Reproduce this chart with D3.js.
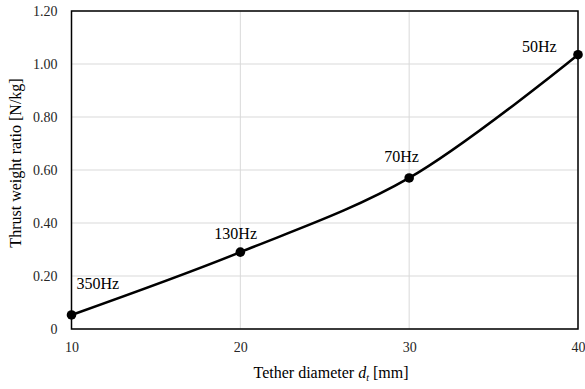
<!DOCTYPE html>
<html lang="en">
<head>
<meta charset="utf-8">
<title>Thrust weight ratio</title>
<script src="https://d3js.org/d3.v7.min.js"></script>
<style type="text/css">
  body { margin: 0; background: #fff; }
  svg, svg text { font-family: "Liberation Serif", "Times New Roman", serif; }
  svg { display: block; }
  .grid line { stroke: #d9d9d9; stroke-width: 1; }
  .tick text { fill: #262626; font-size: 14px; }
  .frame { fill: none; stroke: #000; stroke-width: 1.5; }
  .curve { fill: none; stroke: #000; stroke-width: 2.5; }
  .label { font-size: 16px; fill: #000; }
  .title { font-size: 16px; fill: #000; }
</style>
</head>
<body>
<script type="text/javascript">
// tether diameter [mm] vs thrust weight ratio [N/kg]
var diameters = [10, 20, 30, 40];
var ratios = [0.053, 0.29, 0.57, 1.035];
var freqLabels = ["350Hz", "130Hz", "70Hz", "50Hz"];
var xTicks = [10, 20, 30, 40];
var yTicks = [0, 0.2, 0.4, 0.6, 0.8, 1.0, 1.2];

var w = 585, h = 389;
var margin = {top: 11, right: 7, bottom: 60, left: 71.5};

var svg = d3.select("body").append("svg")
  .attr("width", w)
  .attr("height", h);

var x = d3.scaleLinear().domain([10, 40]).range([margin.left, w - margin.right]);
var y = d3.scaleLinear().domain([0, 1.2]).range([h - margin.bottom, margin.top]);

// gridlines
var grid = svg.append("g").attr("class", "grid");
grid.selectAll("line.h").data(yTicks).enter().append("line")
  .attr("x1", x(10)).attr("x2", x(40))
  .attr("y1", function (d) { return y(d); })
  .attr("y2", function (d) { return y(d); });
grid.selectAll("line.v").data(xTicks).enter().append("line")
  .attr("y1", y(0)).attr("y2", y(1.2))
  .attr("x1", function (d) { return x(d); })
  .attr("x2", function (d) { return x(d); });

// axes (labels only)
var yAxis = d3.axisLeft(y).tickValues(yTicks).tickSize(0).tickPadding(14)
  .tickFormat(function (d) { return d === 0 ? "0" : d3.format(".2f")(d); });
svg.append("g").attr("class", "axis").attr("transform", "translate(" + margin.left + ",0)")
  .call(yAxis).call(function (g) { g.select(".domain").remove(); });

var xAxis = d3.axisBottom(x).tickValues(xTicks).tickSize(0).tickPadding(13);
svg.append("g").attr("class", "axis").attr("transform", "translate(0," + y(0) + ")")
  .call(xAxis).call(function (g) { g.select(".domain").remove(); });

svg.selectAll(".axis").attr("font-family", null).attr("font-size", null);

svg.append("rect").attr("class", "frame")
  .attr("x", x(10)).attr("y", y(1.2))
  .attr("width", x(40) - x(10)).attr("height", y(0) - y(1.2));

// smoothed line
var pts = diameters.map(function (d, i) { return [d, ratios[i]]; });
var line = d3.line()
  .x(function (d) { return x(d[0]); })
  .y(function (d) { return y(d[1]); })
  .curve(d3.curveCatmullRom.alpha(0.5));
svg.append("path").attr("class", "curve").attr("d", line(pts));

svg.selectAll("circle").data(pts).enter().append("circle")
  .attr("cx", function (d) { return x(d[0]); })
  .attr("cy", function (d) { return y(d[1]); })
  .attr("r", 4.8)
  .attr("fill", "#000");

// frequency labels
var labelOffsets = [[5, -26], [-26, -13], [-25, -16], [-56, -3]];
svg.selectAll("text.label").data(pts).enter().append("text")
  .attr("class", "label")
  .attr("x", function (d, i) { return x(d[0]) + labelOffsets[i][0]; })
  .attr("y", function (d, i) { return y(d[1]) + labelOffsets[i][1]; })
  .text(function (d, i) { return freqLabels[i]; });

// axis titles
var xt = svg.append("text").attr("class", "title")
  .attr("x", 331).attr("y", 378).attr("text-anchor", "middle");
xt.append("tspan").text("Tether diameter ");
xt.append("tspan").attr("font-style", "italic").text("d");
xt.append("tspan").attr("font-style", "italic").attr("font-size", "10px").attr("dy", 3).text("t");
xt.append("tspan").attr("dy", -3).text(" [mm]");

svg.append("text").attr("class", "title")
  .attr("transform", "translate(21,163) rotate(-90)")
  .attr("text-anchor", "middle")
  .text("Thrust weight ratio [N/kg]");
</script>
</body>
</html>
